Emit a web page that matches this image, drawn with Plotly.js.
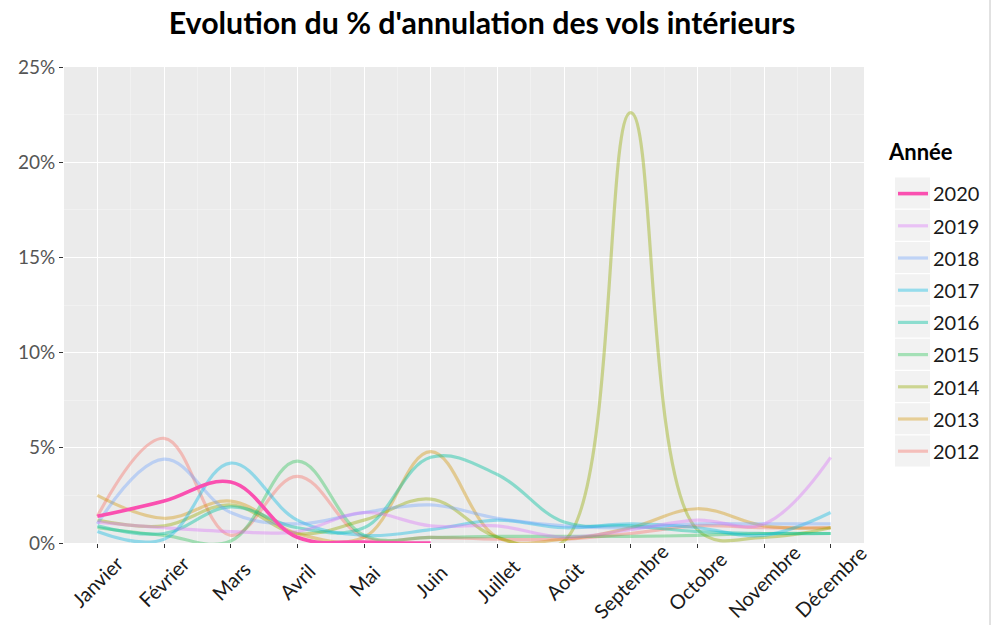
<!DOCTYPE html>
<html>
<head>
<meta charset="utf-8">
<script src="https://cdn.plot.ly/plotly-3.0.1.min.js"></script>
<style>html,body{margin:0;padding:0;background:#fff;}#chart{width:996px;height:625px;}</style>
</head>
<body>
<div id="chart"></div>
<script>
const months = ['Janvier','Février','Mars','Avril','Mai','Juin','Juillet','Août','Septembre','Octobre','Novembre','Décembre'];
const monthIndex = [1,2,3,4,5,6,7,8,9,10,11,12];
const years = ['2012','2013','2014','2015','2016','2017','2018','2019','2020'];
const yTicks = [0,5,10,15,20,25];
const yTickText = ['0%','5%','10%','15%','20%','25%'];

const v2012 = [1.4, 5.5, 0.4, 3.5, 0.3, 0.3, 0.2, 0.2, 0.5, 0.9, 0.8, 0.8];
const v2013 = [2.5, 1.3, 2.2, 0.5, 0.3, 4.8, 0.3, 0.2, 0.8, 1.8, 0.9, 0.8];
const v2014 = [1.2, 0.9, 2.0, 0.5, 1.2, 2.3, 0.3, 0.1, 22.6, 0.7, 0.3, 0.8];
const v2015 = [0.8, 0.4, 0.1, 4.3, 0.4, 0.3, 0.35, 0.35, 0.35, 0.4, 0.5, 0.5];
const v2016 = [0.9, 0.5, 1.9, 0.8, 0.8, 4.5, 3.6, 1.1, 0.9, 0.6, 0.5, 0.5];
const v2017 = [0.6, 0.2, 4.2, 1.2, 0.4, 0.7, 1.2, 0.8, 1.0, 0.8, 0.4, 1.6];
const v2018 = [1.0, 4.4, 1.6, 1.0, 1.6, 2.0, 1.3, 0.9, 0.8, 1.0, 1.0, 1.0];
const v2019 = [1.1, 0.8, 0.6, 0.6, 1.6, 0.9, 0.9, 0.3, 0.7, 1.2, 1.0, 4.5];
const v2020 = [1.4, 2.2, 3.2, 0.3, 0.05, 0.0];

const series = [v2012, v2013, v2014, v2015, v2016, v2017, v2018, v2019, v2020];
const colors = ['rgba(248,118,109,0.42)','rgba(211,146,0,0.38)','rgba(147,170,0,0.4)','rgba(0,186,56,0.32)',
                'rgba(0,193,159,0.42)','rgba(0,185,227,0.38)','rgba(97,156,255,0.35)','rgba(219,114,251,0.38)','#FA50B0'];
const widths = [3.2,3.2,3.2,3.2,3.2,3.2,3.2,3.2,3.6];

const FONT = 'Lato, "Open Sans", sans-serif';

const traces = series.map((vals, i) => ({
  type: 'scatter', mode: 'lines',
  x: monthIndex.slice(0, vals.length), y: vals,
  name: years[i], legendgroup: 'g' + years[i], legendrank: (series.length - i) * 10,
  line: {color: colors[i], width: widths[i], shape: 'spline', smoothing: 1.1},
  hoverinfo: 'skip'
}));

const monthLabels = months.map((m, i) => ({
  xref: 'x', x: monthIndex[i], yref: 'paper', y: -0.0798,
  text: m, textangle: -45, showarrow: false, xanchor: 'center', yanchor: 'middle',
  font: {family: FONT, size: 20, color: '#1a1a1a'}
}));

// light grey legend key boxes (ggplot style)
const keyBoxes = years.map((y, k) => {
  const cy = 193 + 32.25 * k;
  return {type: 'rect', xref: 'paper', yref: 'paper', layer: 'below',
          x0: (895 - 64) / 800, x1: (930 - 64) / 800,
          y0: (543 - (cy + 15.5)) / 476, y1: (543 - (cy - 15.5)) / 476,
          fillcolor: '#F2F2F2', line: {width: 0}};
});

const layout = {
  width: 996, height: 625,
  margin: {l: 64, r: 132, t: 67, b: 82, pad: 0, autoexpand: false},
  paper_bgcolor: '#ffffff', plot_bgcolor: '#EBEBEB',
  font: {family: FONT, color: '#1a1a1a'},
  title: {text: "<b>Evolution du % d'annulation des vols intérieurs</b>", font: {family: FONT, size: 30.3, color: '#000'},
          xref: 'container', x: 0.484, xanchor: 'center', yref: 'container', y: 0.963, yanchor: 'middle'},
  xaxis: {range: [0.5, 12.5], tickmode: 'array', tickvals: monthIndex, showticklabels: false,
          ticks: 'outside', ticklen: 4, tickcolor: '#333',
          showgrid: true, gridcolor: '#ffffff', gridwidth: 1, zeroline: false, showline: false, automargin: false,
          minor: {tickmode: 'array', tickvals: [1.5,2.5,3.5,4.5,5.5,6.5,7.5,8.5,9.5,10.5,11.5], showgrid: true, gridcolor: 'rgba(255,255,255,0.55)', gridwidth: 0.6, ticks: ''}},
  yaxis: {range: [0, 25], tickmode: 'array', tickvals: yTicks, ticktext: yTickText,
          tickfont: {family: FONT, size: 19, color: '#555'}, ticks: 'outside', ticklen: 4, tickcolor: '#333',
          showgrid: true, gridcolor: '#ffffff', gridwidth: 1, zeroline: false, showline: false, automargin: false,
          minor: {tickmode: 'array', tickvals: [2.5,7.5,12.5,17.5,22.5], showgrid: true, gridcolor: 'rgba(255,255,255,0.55)', gridwidth: 0.6, ticks: ''}},
  showlegend: true,
  legend: {x: (893 - 64) / 800, xanchor: 'left', y: 0.775, yanchor: 'top', traceorder: 'grouped', tracegroupgap: 3.2, itemwidth: 30,
           bgcolor: 'rgba(0,0,0,0)', font: {family: FONT, size: 20, color: '#1a1a1a'}},
  annotations: monthLabels.concat([{
    xref: 'paper', x: 1.027, xanchor: 'left', yref: 'paper', y: (543 - 151) / 476, yanchor: 'middle',
    text: '<b>Année</b>', showarrow: false, font: {family: FONT, size: 22, color: '#000'}
  }]),
  shapes: keyBoxes.concat([{type: 'line', xref: 'paper', yref: 'paper', x0: 1.1575, x1: 1.1575, y0: -0.2, y1: 1.2, line: {color: '#c4c4c4', width: 1}}])
};

Plotly.newPlot('chart', traces, layout, {displayModeBar: false, staticPlot: true});
</script>
</body>
</html>
